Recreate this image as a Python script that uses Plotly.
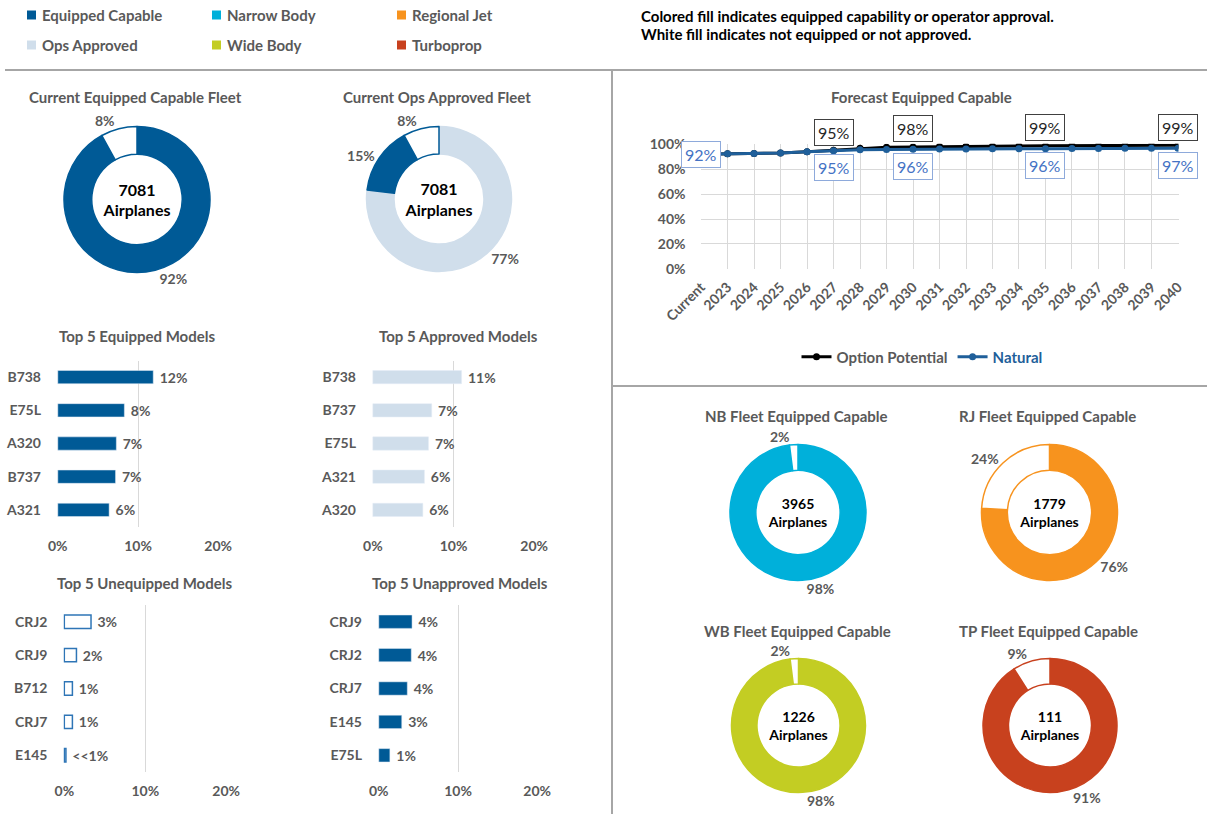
import plotly.graph_objects as go

W, H = 1207, 814

# ---------------- data ----------------
fleet_total = 7081
equipped_split = [92, 8]            # equipped capable / not equipped
approved_split = [77, 15, 8]        # ops approved / equipped not approved / not equipped

equipped_models = ["B738", "E75L", "A320", "B737", "A321"]
equipped_share = [0.119, 0.083, 0.073, 0.072, 0.064]
equipped_text = ["12%", "8%", "7%", "7%", "6%"]

approved_models = ["B738", "B737", "E75L", "A321", "A320"]
approved_share = [0.110, 0.073, 0.069, 0.064, 0.062]
approved_text = ["11%", "7%", "7%", "6%", "6%"]

unequipped_models = ["CRJ2", "CRJ9", "B712", "CRJ7", "E145"]
unequipped_share = [0.033, 0.015, 0.010, 0.010, 0.002]
unequipped_text = ["3%", "2%", "1%", "1%", "<<1%"]

unapproved_models = ["CRJ9", "CRJ2", "CRJ7", "E145", "E75L"]
unapproved_share = [0.042, 0.041, 0.036, 0.029, 0.014]
unapproved_text = ["4%", "4%", "4%", "3%", "1%"]

years = ["Current"] + [str(y) for y in range(2023, 2041)]
option_potential = [0.92, 0.924, 0.926, 0.93, 0.94, 0.951, 0.968, 0.975, 0.978, 0.981,
                    0.983, 0.984, 0.986, 0.987, 0.988, 0.989, 0.99, 0.99, 0.991]
natural = [0.92, 0.924, 0.926, 0.93, 0.94, 0.948, 0.955, 0.958, 0.96, 0.961,
           0.962, 0.963, 0.963, 0.964, 0.965, 0.966, 0.967, 0.968, 0.968]
option_label_idx = [5, 8, 13, 18]
natural_label_idx = [0, 5, 8, 13, 18]

fleet_types = ["NB", "RJ", "WB", "TP"]
fleet_type_totals = [3965, 1779, 1226, 111]
fleet_type_equipped = [98, 76, 98, 91]

# ---------------- colours / fonts ----------------
EQ = "#005a96"
OPS = "#d0deeb"
NB = "#00b0da"
RJ = "#f7931e"
WB = "#c3cd23"
TP = "#c8411e"
OUTLINE = "#2e75b6"
NAT = "#1f5f9a"
GRAY = "#595959"
GRID = "#d9d9d9"
FONT = "Lato"


def fx(px):
    return px / W


def fy(py):
    return 1 - py / H


def lab_font(size=14, color=GRAY):
    return dict(family=FONT, size=size, color=color, weight="bold")


fig = go.Figure()


# ---------------- donuts ----------------
def donut(values, colors, lines, cx, cy, r, total, center_size=14):
    fig.add_trace(go.Pie(
        values=values, sort=False, direction="clockwise", rotation=0, hole=0.62,
        marker=dict(colors=colors, line=dict(color=lines, width=1.5)),
        texttemplate="%{percent:.0%}", textposition="outside",
        outsidetextfont=lab_font(14), showlegend=False, hoverinfo="skip", automargin=False,
        title=dict(text=f"{total}<br>Airplanes", position="middle center",
                   font=lab_font(center_size, "black")),
        domain=dict(x=[fx(cx - r), fx(cx + r)], y=[fy(cy + r), fy(cy - r)]),
    ))


donut(equipped_split, [EQ, "white"], [EQ, EQ], 137, 199.5, 73, fleet_total, 16)
donut(approved_split, [OPS, EQ, "white"], [OPS, EQ, EQ], 439, 199, 72.5, fleet_total, 16)

fleet_colors = [NB, RJ, WB, TP]
fleet_pos = [(798, 512.5, 68), (1049.5, 512.5, 68), (798.5, 725.5, 67), (1050, 725.5, 67)]
for i, name in enumerate(fleet_types):
    cx, cy, r = fleet_pos[i]
    c = fleet_colors[i]
    donut([fleet_type_equipped[i], 100 - fleet_type_equipped[i]], [c, "white"], [c, c],
          cx, cy, r, fleet_type_totals[i])

# ---------------- bar charts ----------------
bars = [
    (equipped_models, equipped_share, equipped_text, dict(color=EQ), "x", "y"),
    (approved_models, approved_share, approved_text, dict(color=OPS), "x2", "y2"),
    (unequipped_models, unequipped_share, unequipped_text,
     dict(color="white", line=dict(color=OUTLINE, width=1.5)), "x3", "y3"),
    (unapproved_models, unapproved_share, unapproved_text, dict(color=EQ), "x4", "y4"),
]
for models, share, txt, mk, xa, ya in bars:
    fig.add_trace(go.Bar(
        x=share, y=models, orientation="h", marker=mk, width=0.4,
        text=txt, texttemplate="\u00a0%{text}", textposition="outside",
        textfont=lab_font(14), cliponaxis=False,
        constraintext="none", showlegend=False, hoverinfo="skip", xaxis=xa, yaxis=ya,
    ))

# ---------------- forecast lines ----------------
fig.add_trace(go.Scatter(
    x=years, y=option_potential, mode="lines+markers", name="Option Potential",
    line=dict(color="black", width=3), marker=dict(size=7, color="black"),
    xaxis="x5", yaxis="y5",
))
fig.add_trace(go.Scatter(
    x=years, y=natural, mode="lines+markers",
    name=f"<span style='color:{NAT}'>Natural</span>",
    line=dict(color=NAT, width=3), marker=dict(size=7, color=NAT),
    xaxis="x5", yaxis="y5",
))

annotations = []
for i in option_label_idx:
    annotations.append(dict(
        x=i, y=option_potential[i], xref="x5", yref="y5", text=f"{option_potential[i]:.0%}",
        showarrow=False, yshift=18, bgcolor="white", bordercolor="#404040", borderwidth=1,
        borderpad=3, font=dict(family=FONT, size=16, color="#262626"),
    ))
for i in natural_label_idx:
    annotations.append(dict(
        x=i, y=natural[i], xref="x5", yref="y5", text=f"{natural[i]:.0%}",
        showarrow=False, yshift=0 if i == 0 else -17, bgcolor="white", bordercolor="#8eaadb",
        borderwidth=1, borderpad=3, font=dict(family=FONT, size=16, color="#4472c4"),
    ))

# ---------------- titles ----------------
titles = [
    ("Current Equipped Capable Fleet", 135, 97),
    ("Current Ops Approved Fleet", 437, 97),
    ("Top 5 Equipped Models", 137, 336),
    ("Top 5 Approved Models", 458, 336),
    ("Top 5 Unequipped Models", 144, 583),
    ("Top 5 Unapproved Models", 460, 583),
    ("Forecast Equipped Capable", 921, 97),
    ("NB Fleet Equipped Capable", 796, 416),
    ("RJ Fleet Equipped Capable", 1047, 416),
    ("WB Fleet Equipped Capable", 797, 631),
    ("TP Fleet Equipped Capable", 1048, 631),
]
for t, x, y in titles:
    annotations.append(dict(x=fx(x), y=fy(y), xref="paper", yref="paper", text=t,
                            showarrow=False, xanchor="center", yanchor="middle",
                            font=lab_font(15)))

# ---------------- top legend ----------------
shapes = []
legend_items = [
    ("Equipped Capable", EQ, 27, 15), ("Ops Approved", OPS, 27, 45),
    ("Narrow Body", NB, 212, 15), ("Wide Body", WB, 212, 45),
    ("Regional Jet", RJ, 397, 15), ("Turboprop", TP, 397, 45),
]
for name, col, x, y in legend_items:
    shapes.append(dict(type="rect", xref="paper", yref="paper", x0=fx(x), x1=fx(x + 9),
                       y0=fy(y + 4.5), y1=fy(y - 4.5), fillcolor=col, line=dict(width=0)))
    annotations.append(dict(x=fx(x + 13), y=fy(y), xref="paper", yref="paper", text=name,
                            showarrow=False, xanchor="left", yanchor="middle",
                            font=lab_font(15)))
for t, y in [("Colored fill indicates equipped capability or operator approval.", 16),
             ("White fill indicates not equipped or not approved.", 34)]:
    annotations.append(dict(x=fx(639), y=fy(y), xref="paper", yref="paper", text=t,
                            showarrow=False, xanchor="left", yanchor="middle",
                            font=lab_font(15, "black")))

# separators
sep = dict(color="#a6a6a6", width=2)
shapes += [
    dict(type="line", xref="paper", yref="paper", x0=fx(5), x1=1, y0=fy(70), y1=fy(70), line=sep),
    dict(type="line", xref="paper", yref="paper", x0=fx(612), x1=fx(612), y0=fy(70), y1=0, line=sep),
    dict(type="line", xref="paper", yref="paper", x0=fx(612), x1=1, y0=fy(386), y1=fy(386), line=sep),
]


# ---------------- axes ----------------
def bar_axes(n, x0, x1, y0, y1):
    sfx = "" if n == 1 else str(n)
    xa = dict(domain=[fx(x0), fx(x1)], range=[-0.001, 0.201], tickvals=[0, 0.1, 0.2],
              tickformat=".0%", showgrid=True, gridcolor=GRID, gridwidth=1, zeroline=False,
              showline=False, ticks="", tickfont=lab_font(14), ticklabelstandoff=9,
              anchor="y" + sfx, fixedrange=True, automargin=False)
    ya = dict(domain=[fy(y1), fy(y0)], autorange="reversed", showgrid=False, zeroline=False,
              showline=False, ticks="", tickfont=lab_font(14), ticklabelstandoff=15,
              anchor="x" + sfx, fixedrange=True, automargin=False)
    return {"xaxis" + sfx: xa, "yaxis" + sfx: ya}


axes = {}
axes.update(bar_axes(1, 57, 219, 360.5, 526.5))
axes.update(bar_axes(2, 372, 535, 360.5, 526.5))
axes.update(bar_axes(3, 63.5, 227, 605, 772))
axes.update(bar_axes(4, 378, 538, 605, 772))

axes["xaxis5"] = dict(domain=[fx(700.5), fx(1178.5)], type="category", range=[-0.02, 18.02],
                      showgrid=True, gridcolor=GRID, zeroline=False, showline=False, ticks="",
                      tickangle=-45, tickfont=lab_font(14), ticklabelstandoff=6,
                      anchor="y5", fixedrange=True, automargin=False)
axes["yaxis5"] = dict(domain=[fy(269.3), fy(143.8)], range=[-0.003, 1.003],
                      tickvals=[0, 0.2, 0.4, 0.6, 0.8, 1.0], tickformat=".0%", showgrid=True,
                      gridcolor=GRID, zeroline=False, showline=False, ticks="",
                      tickfont=lab_font(14), ticklabelstandoff=14, anchor="x5", fixedrange=True,
                      automargin=False)

fig.update_layout(
    width=W, height=H, margin=dict(l=0, r=0, t=0, b=0, autoexpand=False),
    paper_bgcolor="white", plot_bgcolor="white",
    font=dict(family=FONT, color=GRAY),
    showlegend=True,
    legend=dict(orientation="h", x=fx(922), xanchor="center", y=fy(357), yanchor="middle",
                font=lab_font(15), bgcolor="rgba(0,0,0,0)", itemwidth=30),
    annotations=annotations, shapes=shapes, bargap=0.6,
    **axes,
)

# the page body has a default 8px margin; drop it so the figure sits at the window corner
fig.write_html("out.html", config={"displayModeBar": False},
               post_script="document.body.style.margin = '0px';")
